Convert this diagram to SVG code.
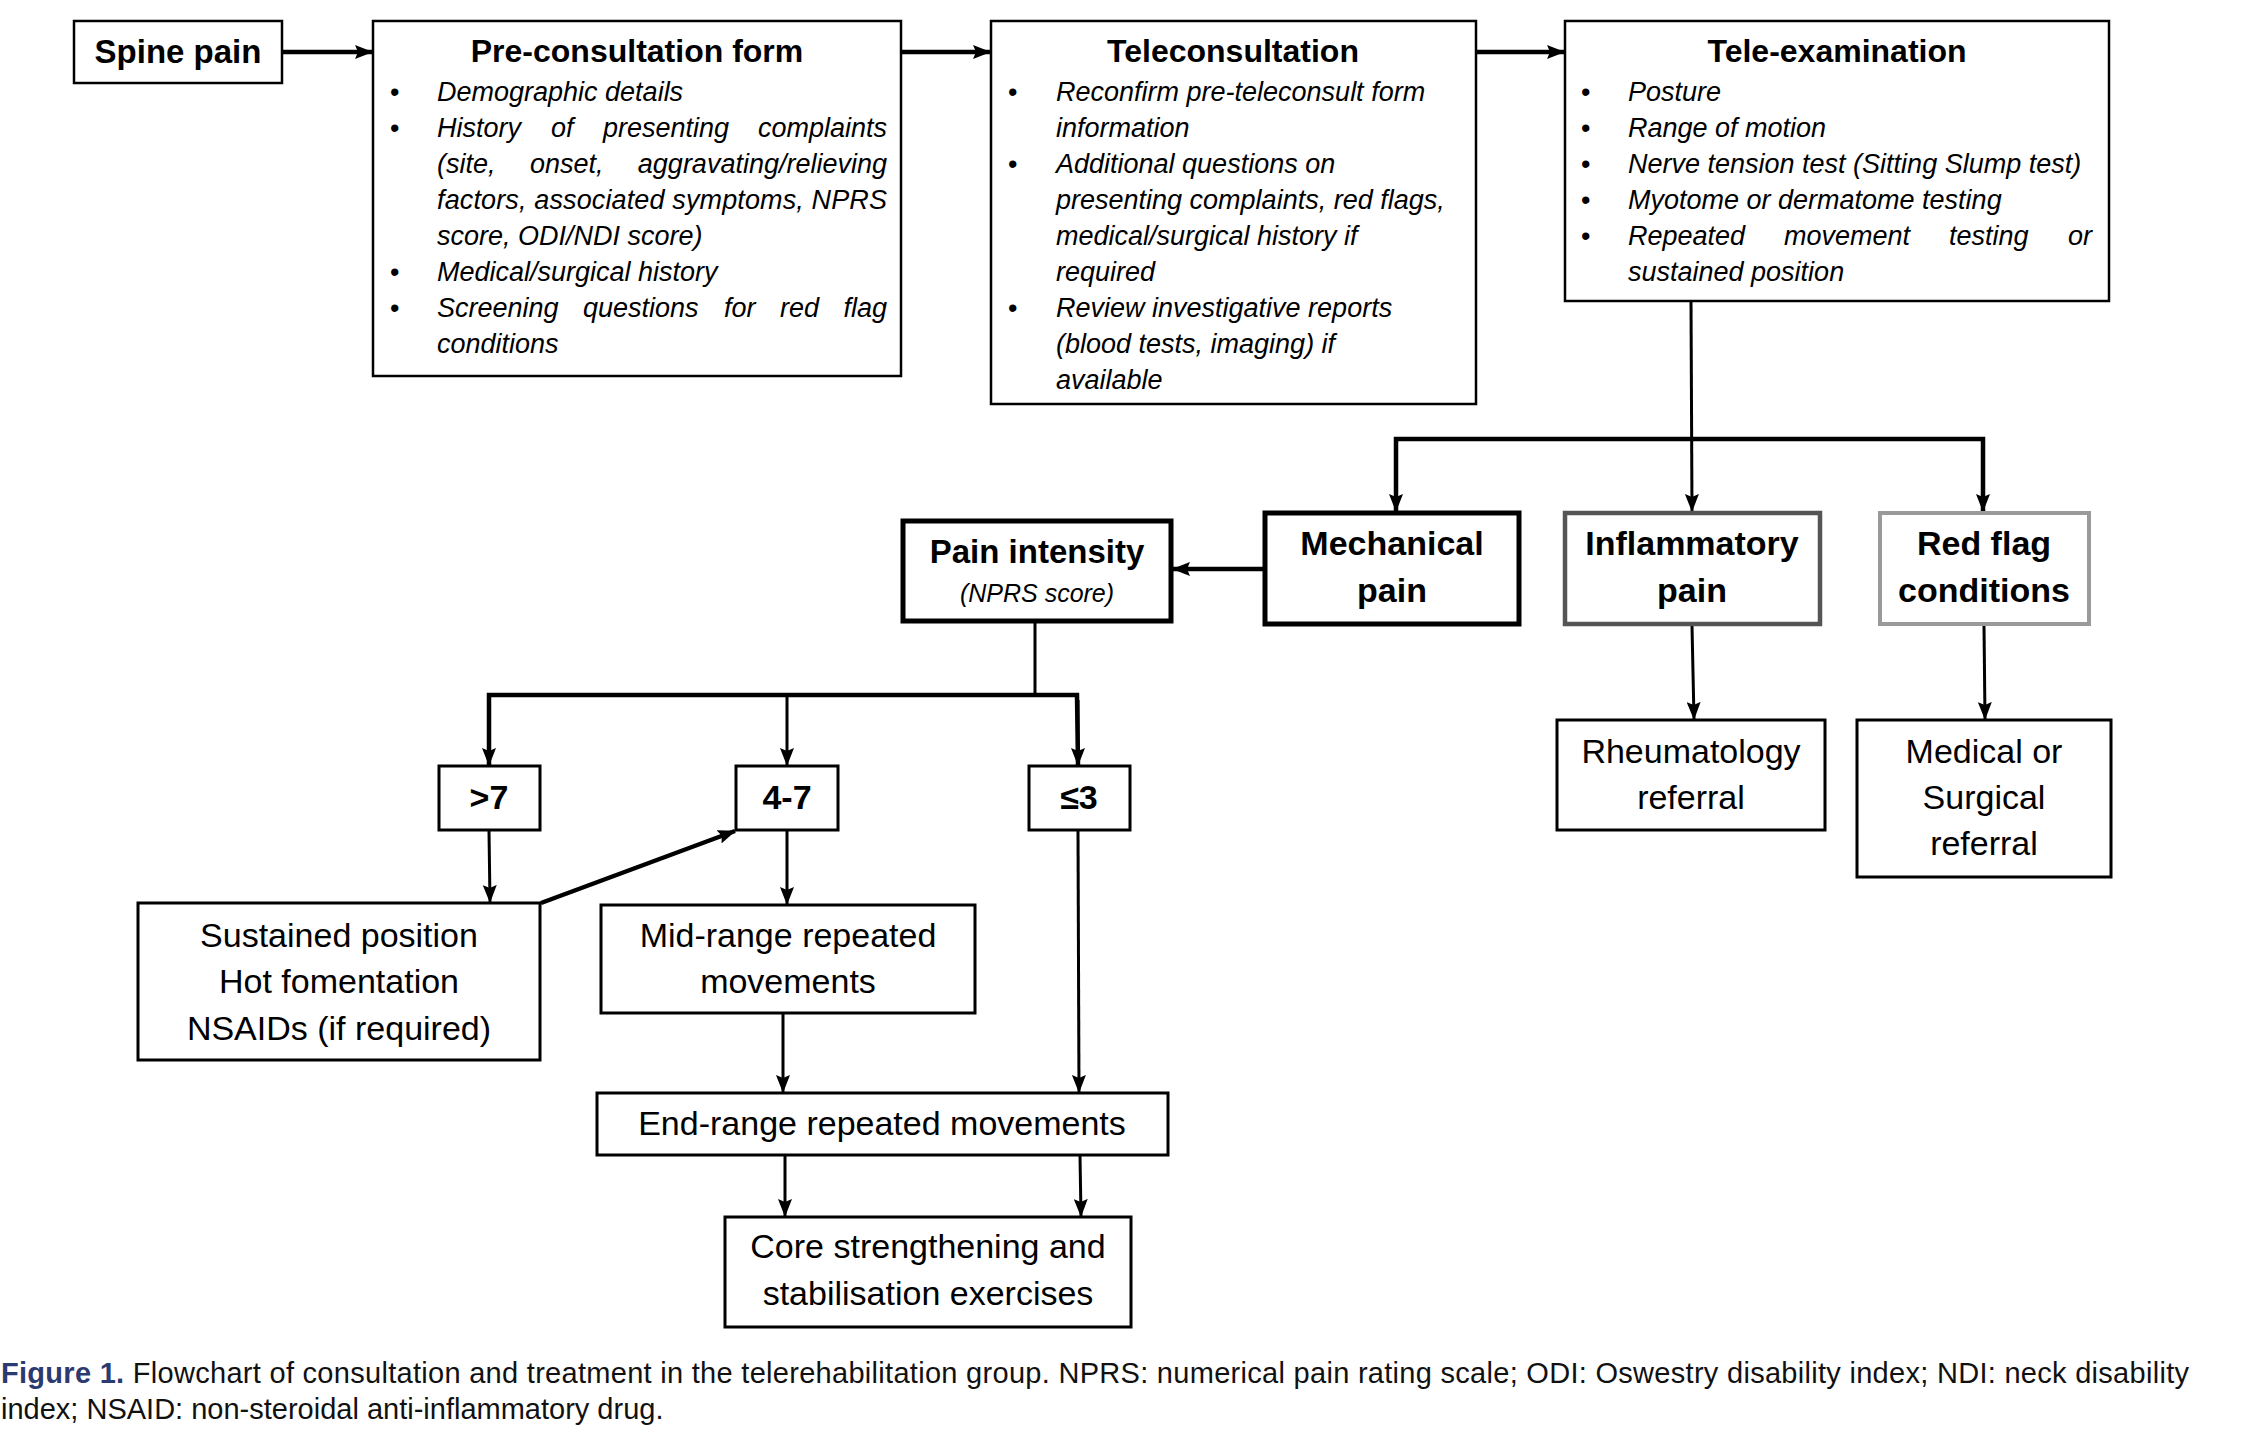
<svg xmlns="http://www.w3.org/2000/svg" width="2243" height="1446" viewBox="0 0 2243 1446">
<defs>
<style>
.box{fill:#fff;stroke:#000;stroke-width:2.5}
.b3{stroke-width:3}
.bk{stroke-width:5}
.gray1{stroke:#555;stroke-width:4.5}
.gray2{stroke:#9a9a9a;stroke-width:4}
text{font-family:"Liberation Sans",Arial,sans-serif;fill:#000}
.title{font-weight:bold;font-size:32px;text-anchor:middle}
.li{font-style:italic;font-size:27px}
.bul{font-size:27px}
.lbl{font-size:34px;text-anchor:middle}
.blbl{font-weight:bold;font-size:34px;text-anchor:middle}
.sub{font-style:italic;font-size:25px;text-anchor:middle}
.cap{font-size:29px;fill:#111}
.conn{stroke:#000;stroke-width:3;fill:none}
.ct{stroke-width:4.5}
</style>
<marker id="ah" viewBox="0 0 18 14" markerWidth="18" markerHeight="14" refX="17" refY="7" orient="auto" markerUnits="userSpaceOnUse">
<path d="M0,0 L18,7 L0,14 L3,7 z" fill="#000"/>
</marker>
</defs>
<rect width="2243" height="1446" fill="#fff"/>

<g id="connectors">
<line class="conn ct" x1="283" y1="52" x2="372" y2="52" marker-end="url(#ah)"/>
<line class="conn ct" x1="902" y1="52" x2="990" y2="52" marker-end="url(#ah)"/>
<line class="conn ct" x1="1477" y1="52" x2="1564" y2="52" marker-end="url(#ah)"/>
<line class="conn" x1="1691" y1="301" x2="1692" y2="511" marker-end="url(#ah)"/>
<polyline class="conn ct" points="1396,511 1396,439 1983,439 1983,511" marker-end="url(#ah)"/>
<line class="conn" x1="1396" y1="470" x2="1396" y2="511" marker-end="url(#ah)"/>
<line class="conn" x1="1692" y1="626" x2="1694" y2="719" marker-end="url(#ah)"/>
<line class="conn" x1="1984" y1="626" x2="1985" y2="719" marker-end="url(#ah)"/>
<line class="conn ct" x1="1264" y1="569" x2="1173" y2="569" marker-end="url(#ah)"/>
<line class="conn" x1="1035" y1="622" x2="1035" y2="695"/>
<polyline class="conn ct" points="489,765 489,695 1077,695 1078,765"/>
<line class="conn" x1="489" y1="700" x2="489" y2="765" marker-end="url(#ah)"/>
<line class="conn" x1="787" y1="695" x2="787" y2="765" marker-end="url(#ah)"/>
<line class="conn" x1="1078" y1="700" x2="1078" y2="765" marker-end="url(#ah)"/>
<line class="conn" x1="489" y1="831" x2="490" y2="902" marker-end="url(#ah)"/>
<line class="conn ct" x1="541" y1="903" x2="735" y2="831" marker-end="url(#ah)"/>
<line class="conn" x1="787" y1="831" x2="787" y2="904" marker-end="url(#ah)"/>
<line class="conn" x1="1078" y1="831" x2="1079" y2="1092" marker-end="url(#ah)"/>
<line class="conn" x1="783" y1="1014" x2="783" y2="1092" marker-end="url(#ah)"/>
<line class="conn" x1="785" y1="1156" x2="785" y2="1216" marker-end="url(#ah)"/>
<line class="conn" x1="1080" y1="1156" x2="1081" y2="1216" marker-end="url(#ah)"/>
</g>

<g id="spine-pain">
<rect class="box" x="74" y="21" width="208" height="62"/>
<text class="title" x="178" y="63" style="font-size:33px">Spine pain</text>
</g>

<g id="pre-consultation">
<rect class="box" x="373" y="21" width="528" height="355"/>
<text class="title" x="637" y="62">Pre-consultation form</text>
<text class="bul" x="390" y="101">•</text>
<text class="bul" x="390" y="137">•</text>
<text class="bul" x="390" y="281">•</text>
<text class="bul" x="390" y="317">•</text>
<text class="li" x="437" y="101">Demographic details</text>
<text class="li" y="137"><tspan x="437">History</tspan><tspan x="551">of</tspan><tspan x="603">presenting</tspan><tspan x="887" text-anchor="end">complaints</tspan></text>
<text class="li" y="173"><tspan x="437">(site,</tspan><tspan x="530">onset,</tspan><tspan x="887" text-anchor="end">aggravating/relieving</tspan></text>
<text class="li" x="437" y="209" textLength="450" lengthAdjust="spacing">factors, associated symptoms, NPRS</text>
<text class="li" x="437" y="245">score, ODI/NDI score)</text>
<text class="li" x="437" y="281">Medical/surgical history</text>
<text class="li" y="317"><tspan x="437">Screening</tspan><tspan x="583">questions</tspan><tspan x="724">for</tspan><tspan x="780">red</tspan><tspan x="887" text-anchor="end">flag</tspan></text>
<text class="li" x="437" y="353">conditions</text>
</g>

<g id="teleconsultation">
<rect class="box" x="991" y="21" width="485" height="383"/>
<text class="title" x="1233" y="62">Teleconsultation</text>
<text class="bul" x="1008" y="101">•</text>
<text class="bul" x="1008" y="173">•</text>
<text class="bul" x="1008" y="317">•</text>
<text class="li" x="1056" y="101">Reconfirm pre-teleconsult form</text>
<text class="li" x="1056" y="137">information</text>
<text class="li" x="1056" y="173">Additional questions on</text>
<text class="li" x="1056" y="209">presenting complaints, red flags,</text>
<text class="li" x="1056" y="245">medical/surgical history if</text>
<text class="li" x="1056" y="281">required</text>
<text class="li" x="1056" y="317">Review investigative reports</text>
<text class="li" x="1056" y="353">(blood tests, imaging) if</text>
<text class="li" x="1056" y="389">available</text>
</g>

<g id="tele-examination">
<rect class="box" x="1565" y="21" width="544" height="280"/>
<text class="title" x="1837" y="62">Tele-examination</text>
<text class="bul" x="1581" y="101">•</text>
<text class="bul" x="1581" y="137">•</text>
<text class="bul" x="1581" y="173">•</text>
<text class="bul" x="1581" y="209">•</text>
<text class="bul" x="1581" y="245">•</text>
<text class="li" x="1628" y="101">Posture</text>
<text class="li" x="1628" y="137">Range of motion</text>
<text class="li" x="1628" y="173">Nerve tension test (Sitting Slump test)</text>
<text class="li" x="1628" y="209">Myotome or dermatome testing</text>
<text class="li" y="245"><tspan x="1628">Repeated</tspan><tspan x="1784">movement</tspan><tspan x="1949">testing</tspan><tspan x="2092" text-anchor="end">or</tspan></text>
<text class="li" x="1628" y="281">sustained position</text>
</g>

<g id="mechanical-pain">
<rect class="box bk" x="1265" y="513" width="254" height="111"/>
<text class="blbl" x="1392" y="555">Mechanical</text>
<text class="blbl" x="1392" y="602">pain</text>
</g>

<g id="inflammatory-pain">
<rect class="box gray1" x="1565" y="513" width="255" height="111"/>
<text class="blbl" x="1692" y="555">Inflammatory</text>
<text class="blbl" x="1692" y="602">pain</text>
</g>

<g id="red-flag">
<rect class="box gray2" x="1880" y="513" width="209" height="111"/>
<text class="blbl" x="1984" y="555">Red flag</text>
<text class="blbl" x="1984" y="602">conditions</text>
</g>

<g id="rheumatology-referral">
<rect class="box b3" x="1557" y="720" width="268" height="110"/>
<text class="lbl" x="1691" y="763">Rheumatology</text>
<text class="lbl" x="1691" y="809">referral</text>
</g>

<g id="medical-surgical-referral">
<rect class="box b3" x="1857" y="720" width="254" height="157"/>
<text class="lbl" x="1984" y="763">Medical or</text>
<text class="lbl" x="1984" y="809">Surgical</text>
<text class="lbl" x="1984" y="855">referral</text>
</g>

<g id="pain-intensity">
<rect class="box bk" x="903" y="521" width="268" height="100"/>
<text class="blbl" x="1037" y="563" style="font-size:33px">Pain intensity</text>
<text class="sub" x="1037" y="602">(NPRS score)</text>
</g>

<g id="gt7">
<rect class="box b3" x="439" y="766" width="101" height="64"/>
<text class="blbl" x="489" y="809">&gt;7</text>
</g>

<g id="r4-7">
<rect class="box b3" x="736" y="766" width="102" height="64"/>
<text class="blbl" x="787" y="809">4-7</text>
</g>

<g id="le3">
<rect class="box b3" x="1029" y="766" width="101" height="64"/>
<text class="blbl" x="1079" y="809">≤3</text>
</g>

<g id="sustained-position">
<rect class="box b3" x="138" y="903" width="402" height="157"/>
<text class="lbl" x="339" y="947">Sustained position</text>
<text class="lbl" x="339" y="993">Hot fomentation</text>
<text class="lbl" x="339" y="1040">NSAIDs (if required)</text>
</g>

<g id="mid-range">
<rect class="box b3" x="601" y="905" width="374" height="108"/>
<text class="lbl" x="788" y="947">Mid-range repeated</text>
<text class="lbl" x="788" y="993">movements</text>
</g>

<g id="end-range">
<rect class="box b3" x="597" y="1093" width="571" height="62"/>
<text class="lbl" x="882" y="1135">End-range repeated movements</text>
</g>

<g id="core-strengthening">
<rect class="box b3" x="725" y="1217" width="406" height="110"/>
<text class="lbl" x="928" y="1258">Core strengthening and</text>
<text class="lbl" x="928" y="1305">stabilisation exercises</text>
</g>

<g id="caption">
<text class="cap" x="1" y="1383" textLength="2188" lengthAdjust="spacing"><tspan font-weight="bold" fill="#2b3a70">Figure 1.</tspan> Flowchart of consultation and treatment in the telerehabilitation group. NPRS: numerical pain rating scale; ODI: Oswestry disability index; NDI: neck disability</text>
<text class="cap" x="1" y="1419">index; NSAID: non-steroidal anti-inflammatory drug.</text>
</g>
</svg>
